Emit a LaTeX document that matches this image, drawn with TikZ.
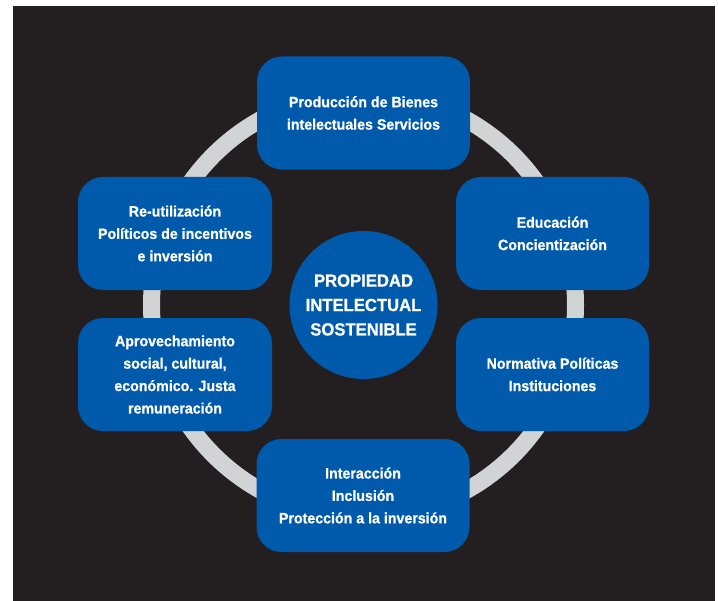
\documentclass[tikz,border=0pt]{standalone}
\usepackage{fontspec}
\setmainfont{Liberation Sans}[FakeStretch=0.95, BoldFeatures={FakeBold=0.8}]
\usepackage{xcolor}
\usepackage{tikz}
\usetikzlibrary{positioning,calc}

\definecolor{fondo}{HTML}{231F20}
\definecolor{azul}{HTML}{005AAB}
\definecolor{anillo}{HTML}{D1D3D4}

\tikzset{
    caja/.style={fill=azul, rounded corners=25bp, minimum width=213bp, minimum height=113bp,
        text=white, font=\bfseries\fontsize{15}{22.5}\selectfont, align=center, inner sep=0pt},
    centro/.style={circle, fill=azul, minimum size=148bp, text=white,
        font=\bfseries\fontsize{17.6}{24.5}\selectfont, align=center, inner sep=0pt}
}

\begin{document}
\begin{tikzpicture}[x=1bp, y=-1bp]
    \useasboundingbox (0,0) rectangle (718,601);
    % Background
    \fill[fondo] (13,6) rectangle (715,601);

    % Ring
    \coordinate (c) at (363.5,305);
    \draw[anillo, line width=17bp] (c) circle (212);

    % Centre
    \node[centro] (pis) at (c) {PROPIEDAD\\INTELECTUAL\\SOSTENIBLE};

    % Boxes
    \node[caja] (prod) at (363.5,113) {Producción de Bienes\\intelectuales Servicios};
    \node[caja, minimum width=193bp] (edu) at (552.5,233.5) {Educación\\Concientización};
    \node[caja, minimum width=193bp] (norm) at (552.5,374.5) {Normativa Políticas\\Instituciones};
    \node[caja] (inter) at (363,495.5) {Interacción\\Inclusión\\Protección a la inversión};
    \node[caja, minimum width=194bp] (aprov) at (175,374.5) {Aprovechamiento\\social, cultural,\\económico. Justa\\remuneración};
    \node[caja, minimum width=194bp] (reut) at (175,233.5) {Re-utilización\\Políticos de incentivos\\e inversión};
\end{tikzpicture}
\end{document}
